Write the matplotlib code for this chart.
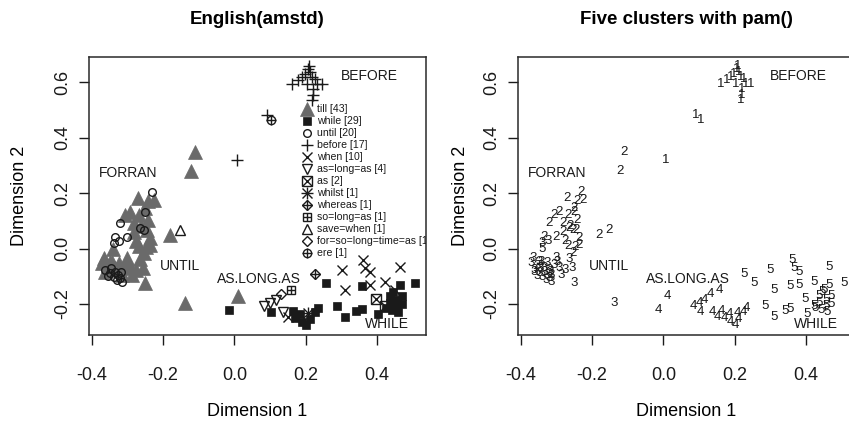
import matplotlib
matplotlib.use("Agg")
import matplotlib.pyplot as plt

plt.rcParams['font.family'] = ['Liberation Sans', 'DejaVu Sans']
plt.rcParams['axes.unicode_minus'] = False

# ---------------- data (Dimension 1, Dimension 2, pam cluster) ----------------
till_x = [-0.111, -0.123, -0.248, 0.011, -0.139, -0.180, -0.271, -0.243, -0.225, -0.292,
          -0.250, -0.269, -0.283, -0.241, -0.276, -0.236, -0.255, -0.340, -0.372, -0.349,
          -0.325, -0.307, -0.293, -0.256, -0.363, -0.316, -0.288, -0.251, -0.355, -0.335,
          -0.299, -0.276, -0.265, -0.246, -0.307, -0.262, -0.282, -0.344, -0.321, -0.302,
          -0.268, -0.237, -0.366]
till_y = [0.350, 0.279, 0.005, -0.171, -0.197, 0.049, 0.181, 0.171, 0.175, 0.133,
          0.145, 0.121, 0.091, 0.103, 0.027, 0.037, -0.017, -0.003, -0.053, -0.048,
          -0.053, -0.059, -0.071, -0.071, -0.084, -0.095, -0.095, -0.123, -0.063, -0.070,
          -0.049, -0.077, -0.038, 0.067, 0.121, 0.081, 0.059, -0.049, -0.077, -0.034,
          0.009, 0.013, -0.034]
till_cl = [2, 2, 2, 4, 3, 2, 2, 2, 2, 2,
           2, 2, 2, 2, 2, 2, 2, 5, 3, 3,
           3, 3, 3, 3, 3, 3, 3, 3, 3, 3,
           3, 3, 3, 2, 2, 2, 2, 3, 3, 3,
           2, 2, 3]

while_x = [-0.015, 0.104, 0.170, 0.184, 0.201, 0.226, 0.234, 0.189, 0.212, 0.164,
           0.256, 0.287, 0.310, 0.341, 0.357, 0.357, 0.404, 0.446, 0.465, 0.507,
           0.436, 0.436, 0.442, 0.456, 0.456, 0.459, 0.470, 0.470, 0.425]
while_y = [-0.222, -0.228, -0.252, -0.236, -0.276, -0.228, -0.214, -0.265, -0.254, -0.225,
           -0.125, -0.207, -0.248, -0.224, -0.219, -0.135, -0.236, -0.156, -0.132, -0.125,
           -0.171, -0.196, -0.222, -0.186, -0.207, -0.229, -0.171, -0.200, -0.214]
while_cl = [4, 4, 4, 4, 4, 4, 4, 4, 4, 4,
            5, 5, 5, 5, 5, 5, 5, 5, 5, 5,
            5, 5, 5, 5, 5, 5, 5, 5, 5]

until_x = [-0.232, -0.250, -0.321, -0.264, -0.255, -0.336, -0.324, -0.302, -0.339, -0.363,
           -0.349, -0.335, -0.339, -0.327, -0.321, -0.314, -0.355, -0.330, -0.347, -0.319]
until_y = [0.205, 0.133, 0.091, 0.073, 0.067, 0.043, 0.028, 0.043, 0.019, -0.077,
           -0.089, -0.084, -0.102, -0.094, -0.107, -0.122, -0.099, -0.114, -0.070, -0.085]
until_cl = [2, 2, 2, 2, 2, 2, 3, 2, 3, 3,
            3, 3, 3, 3, 3, 3, 3, 3, 3, 3]

before_x = [0.210, 0.212, 0.198, 0.189, 0.179, 0.161, 0.217, 0.226, 0.231, 0.245,
            0.203, 0.221, 0.221, 0.217, 0.206, 0.091, 0.007]
before_y = [0.660, 0.639, 0.632, 0.621, 0.608, 0.596, 0.621, 0.614, 0.596, 0.596,
            0.596, 0.578, 0.554, 0.536, 0.650, 0.481, 0.319]
before_cl = [1] * 17

when_x = [0.362, 0.366, 0.380, 0.465, 0.301, 0.310, 0.380, 0.422, 0.451, 0.151]
when_y = [-0.041, -0.071, -0.084, -0.066, -0.077, -0.150, -0.132, -0.120, -0.150, -0.248]
when_cl = [5, 5, 5, 5, 5, 5, 5, 5, 5, 4]

aslongas_x = [0.084, 0.100, 0.116, 0.137]
aslongas_y = [-0.207, -0.198, -0.186, -0.228]
aslongas_cl = [4, 4, 4, 4]

as_x = [0.399, 0.422]
as_y = [-0.183, -0.207]
as_cl = [5, 5]

whilst_x, whilst_y, whilst_cl = [0.207], [-0.234], [4]
whereas_x, whereas_y, whereas_cl = [0.226], [-0.092], [5]
solongas_x, solongas_y, solongas_cl = [0.158], [-0.150], [4]
savewhen_x, savewhen_y, savewhen_cl = [-0.152], [0.067], [2]
forsolong_x, forsolong_y, forsolong_cl = [0.132], [-0.164], [4]
ere_x, ere_y, ere_cl = [0.104], [0.463], [1]

legend_labels = ["till [43]", "while [29]", "until [20]", "before [17]", "when [10]",
                 "as=long=as [4]", "as [2]", "whilst [1]", "whereas [1]", "so=long=as [1]",
                 "save=when [1]", "for=so=long=time=as [1]", "ere [1]"]

region_names = ["BEFORE", "FORRAN", "UNTIL", "AS.LONG.AS", "WHILE"]
region_x = [0.380, -0.298, -0.152, 0.069, 0.427]
region_y = [0.622, 0.272, -0.062, -0.110, -0.272]

x_ticks = [-0.4, -0.2, 0.0, 0.2, 0.4]
y_ticks = [-0.2, 0.0, 0.2, 0.4, 0.6]
x_tick_labels = ["-0.4", "-0.2", "0.0", "0.2", "0.4"]
y_tick_labels = ["-0.2", "0.0", "0.2", "0.4", "0.6"]

# ---------------- styles ----------------
GRAY = '#6a6a6a'
INK = '#1a1a1a'
LW = 1.0

# each style: list of (marker, markersize, fill colour or None for open)
styles = [
    [('^', 10, GRAY)],
    [('s', 5.5, INK)],
    [('o', 5.5, None)],
    [('+', 9, None)],
    [('x', 6.5, None)],
    [('v', 7.5, None)],
    [('s', 6.5, None), ('x', 6.5, None)],
    [('+', 8.5, None), ('x', 6.5, None)],
    [('D', 5.0, None), ('+', 7, None)],
    [('s', 6.0, None), ('+', 6, None)],
    [('^', 7.5, None)],
    [('D', 5.5, None)],
    [('o', 6.0, None), ('+', 7.5, None)],
]

series = [
    (till_x, till_y, till_cl),
    (while_x, while_y, while_cl),
    (until_x, until_y, until_cl),
    (before_x, before_y, before_cl),
    (when_x, when_y, when_cl),
    (aslongas_x, aslongas_y, aslongas_cl),
    (as_x, as_y, as_cl),
    (whilst_x, whilst_y, whilst_cl),
    (whereas_x, whereas_y, whereas_cl),
    (solongas_x, solongas_y, solongas_cl),
    (savewhen_x, savewhen_y, savewhen_cl),
    (forsolong_x, forsolong_y, forsolong_cl),
    (ere_x, ere_y, ere_cl),
]


def draw_marker(ax, xs, ys, style, transform=None, clip=True):
    for (m, ms, fill) in style:
        kw = dict(linestyle='none', marker=m, markersize=ms, clip_on=clip)
        if transform is not None:
            kw['transform'] = transform
        if fill is not None:
            ax.plot(xs, ys, markerfacecolor=fill, markeredgecolor=fill,
                    markeredgewidth=0.5, **kw)
        else:
            ax.plot(xs, ys, markerfacecolor='none', markeredgecolor=INK,
                    markeredgewidth=LW, color=INK, **kw)


fig = plt.figure(figsize=(8.49, 4.25), dpi=100)
W, H = 849.0, 425.0
axL = fig.add_axes([89 / W, 90 / H, 337 / W, 278 / H])
axR = fig.add_axes([518 / W, 90 / H, 337 / W, 278 / H])

XLIM = (-0.408, 0.538)
YLIM = (-0.312, 0.692)

for ax, ylpad in ((axL, 19), (axR, 10)):
    ax.set_xlim(*XLIM)
    ax.set_ylim(*YLIM)
    ax.set_xticks(x_ticks)
    ax.set_xticklabels(x_tick_labels)
    ax.set_yticks(y_ticks)
    ax.set_yticklabels(y_tick_labels, rotation=90, va='center')
    ax.tick_params(direction='out', length=7, width=1.0, colors=INK,
                   labelsize=13)
    ax.tick_params(axis='x', pad=16)
    ax.tick_params(axis='y', pad=6)
    for sp in ax.spines.values():
        sp.set_linewidth(1.1)
        sp.set_color('#2a2a2a')
    ax.set_xlabel("Dimension 1", fontsize=13, labelpad=14)
    ax.set_ylabel("Dimension 2", fontsize=13, labelpad=ylpad)
    for name, rx, ry in zip(region_names, region_x, region_y):
        ax.text(rx, ry, name, fontsize=10, ha='center', va='center', color=INK)

# left panel: word symbols
for (xs, ys, cl), st in zip(series, styles):
    draw_marker(axL, xs, ys, st)

# left panel legend (no frame), clipped at the plot box
leg_x_sym = 0.646
leg_x_txt = 0.677
leg_y0 = 0.813
leg_dy = 0.0432
for i, (lab, st) in enumerate(zip(legend_labels, styles)):
    yy = leg_y0 - i * leg_dy
    draw_marker(axL, [leg_x_sym], [yy], st, transform=axL.transAxes)
    axL.text(leg_x_txt, yy, lab, transform=axL.transAxes, fontsize=7.6,
             ha='left', va='center', color=INK, clip_on=True)

# right panel: cluster numbers
for (xs, ys, cl) in series:
    for x, y, c in zip(xs, ys, cl):
        axR.text(x, y, str(c), fontsize=9.5, ha='center', va='center',
                 color=INK, clip_on=True)

fig.text((89 + 337 / 2) / W, 1 - 20 / H, "English(amstd)", fontsize=13.5,
         fontweight='bold', ha='center', va='center')
fig.text((518 + 337 / 2) / W, 1 - 20 / H, "Five clusters with pam()", fontsize=13.5,
         fontweight='bold', ha='center', va='center')

fig.savefig("out.png", dpi=100)
